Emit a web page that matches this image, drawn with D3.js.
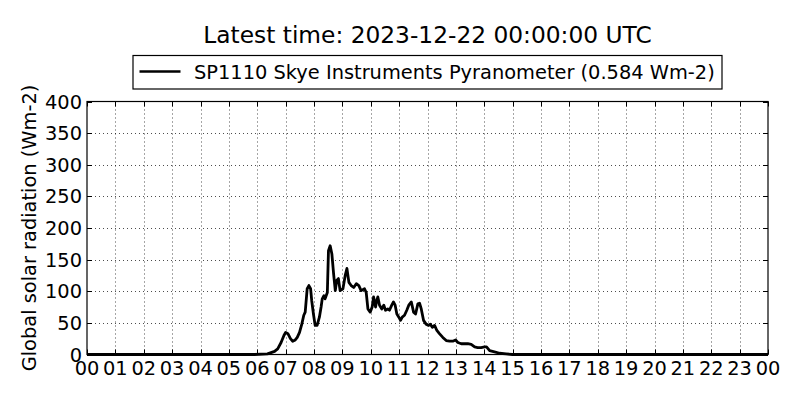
<!DOCTYPE html>
<html><head><meta charset="utf-8">
<script src="https://cdn.jsdelivr.net/npm/d3@7"></script>
<style>
body{margin:0;background:#fff;}
svg{display:block;font-family:"DejaVu Sans",sans-serif;}
</style></head>
<body><svg id="c" width="800" height="400"></svg>
<script>
const titleText = "Latest time: 2023-12-22 00:00:00 UTC";
const legendText = "SP1110 Skye Instruments Pyranometer (0.584 Wm-2)";
const yLabel = "Global solar radiation (Wm-2)";
const xTicks = d3.range(0, 25);
const xTickLabels = xTicks.map(h => String(h % 24).padStart(2, "0"));
const yTicks = [0, 50, 100, 150, 200, 250, 300, 350, 400];

// hours (UTC, decimal) and radiation (Wm-2)
const hours = [0, 5.90, 6.36, 6.61, 6.72, 6.84, 6.94, 7.00, 7.08, 7.17, 7.25, 7.34, 7.41, 7.49, 7.57, 7.64, 7.69,
  7.76, 7.82, 7.88, 7.92, 7.98, 8.04, 8.11, 8.19, 8.25, 8.29, 8.35, 8.39, 8.47, 8.51, 8.57, 8.63, 8.69, 8.75,
  8.80, 8.86, 8.92, 9.02, 9.10, 9.16, 9.23, 9.31, 9.40, 9.49, 9.58, 9.66, 9.78, 9.84, 9.90, 9.98, 10.05, 10.10,
  10.17, 10.21, 10.25, 10.31, 10.39, 10.46, 10.52, 10.60, 10.66, 10.74, 10.80, 10.86, 10.92, 10.99, 11.05, 11.11,
  11.19, 11.27, 11.34, 11.43, 11.51, 11.58, 11.66, 11.72, 11.78, 11.86, 11.95, 12.04, 12.10, 12.17, 12.25, 12.33,
  12.42, 12.54, 12.66, 12.78, 12.89, 12.99, 13.07, 13.19, 13.30, 13.42, 13.54, 13.66, 13.77, 13.89, 14.01, 14.08,
  14.19, 14.36, 14.54, 14.77, 14.99, 24];
const radiation = [0, 0, 1, 5, 9, 19, 30, 35, 33, 25, 21, 23, 27, 35, 48, 62, 67,
  104, 109, 104, 85, 64, 46, 46, 59, 75, 88, 93, 88, 98, 164, 172, 159, 128, 101,
  117, 120, 101, 104, 125, 136, 114, 109, 106, 112, 109, 101, 104, 98, 72, 67, 75, 91,
  75, 85, 91, 78, 72, 78, 70, 72, 70, 78, 83, 78, 64, 59, 54, 59,
  62, 70, 78, 83, 67, 64, 80, 81, 72, 54, 48, 46, 48, 43, 46, 38,
  33, 27, 22, 21, 21, 23, 19, 17, 17, 17, 16, 12, 11, 11, 12, 12,
  6, 4, 2, 1, 0, 0];

const svg = d3.select("#c");
const L = 87, R = 768, T = 101.5, B = 354.5;
const x = d3.scaleLinear().domain([0, 24]).range([L, R]);
const y = d3.scaleLinear().domain([0, 400]).range([B, T]);

// grid
const g = svg.append("g");
g.selectAll(".gx").data(xTicks.slice(1, -1)).enter().append("line")
  .attr("x1", d => Math.round(x(d)) + 0.5).attr("x2", d => Math.round(x(d)) + 0.5)
  .attr("y1", T).attr("y2", B).attr("stroke", "#000").attr("stroke-width", 0.7)
  .attr("stroke-dasharray", "1,3");
g.selectAll(".gy").data(yTicks.slice(1, -1)).enter().append("line")
  .attr("y1", d => Math.round(y(d)) + 0.5).attr("y2", d => Math.round(y(d)) + 0.5)
  .attr("x1", L).attr("x2", R).attr("stroke", "#000").attr("stroke-width", 0.7)
  .attr("stroke-dasharray", "1,3");

// ticks inward
const tl = 5;
xTicks.forEach(d => {
  const xx = Math.round(x(d)) + 0.5;
  svg.append("line").attr("x1", xx).attr("x2", xx).attr("y1", B).attr("y2", B - tl).attr("stroke", "#000");
  svg.append("line").attr("x1", xx).attr("x2", xx).attr("y1", T).attr("y2", T + tl).attr("stroke", "#000");
});
yTicks.forEach(d => {
  const yy = Math.round(y(d)) + 0.5;
  svg.append("line").attr("y1", yy).attr("y2", yy).attr("x1", L).attr("x2", L + tl).attr("stroke", "#000");
  svg.append("line").attr("y1", yy).attr("y2", yy).attr("x1", R).attr("x2", R - tl).attr("stroke", "#000");
});

// data line
const line = d3.line().x((d, i) => x(hours[i])).y(d => y(d)).curve(d3.curveLinear);
svg.append("path").datum(radiation).attr("d", line).attr("fill", "none")
  .attr("stroke", "#000").attr("stroke-width", 2.8).attr("stroke-linejoin", "round");

// frame
svg.append("rect").attr("x", L).attr("y", T).attr("width", R - L).attr("height", B - T)
  .attr("fill", "none").attr("stroke", "#000").attr("stroke-width", 1.2);

// tick labels
svg.selectAll(".xl").data(xTicks).enter().append("text")
  .attr("x", d => x(d)).attr("y", 375).attr("text-anchor", "middle")
  .attr("font-size", 19.4).text((d, i) => xTickLabels[i]);
svg.selectAll(".yl").data(yTicks).enter().append("text")
  .attr("x", 82).attr("y", d => y(d) + 7).attr("text-anchor", "end")
  .attr("font-size", 19.4).text(d => d);

// y label
svg.append("text").attr("transform", `translate(36,${(T + B) / 2}) rotate(-90)`)
  .attr("text-anchor", "middle").attr("font-size", 19.4).text(yLabel);

// title
svg.append("text").attr("x", (L + R) / 2).attr("y", 43).attr("text-anchor", "middle")
  .attr("font-size", 23.3).text(titleText);

// legend
svg.append("rect").attr("x", 133).attr("y", 55.5).attr("width", 589).attr("height", 33.5)
  .attr("fill", "#fff").attr("stroke", "#000").attr("stroke-width", 1.2);
svg.append("line").attr("x1", 139.5).attr("x2", 180.5).attr("y1", 71.5).attr("y2", 71.5)
  .attr("stroke", "#000").attr("stroke-width", 2.6);
svg.append("text").attr("x", 194).attr("y", 78.5).attr("font-size", 19.4).text(legendText);
</script></body></html>
